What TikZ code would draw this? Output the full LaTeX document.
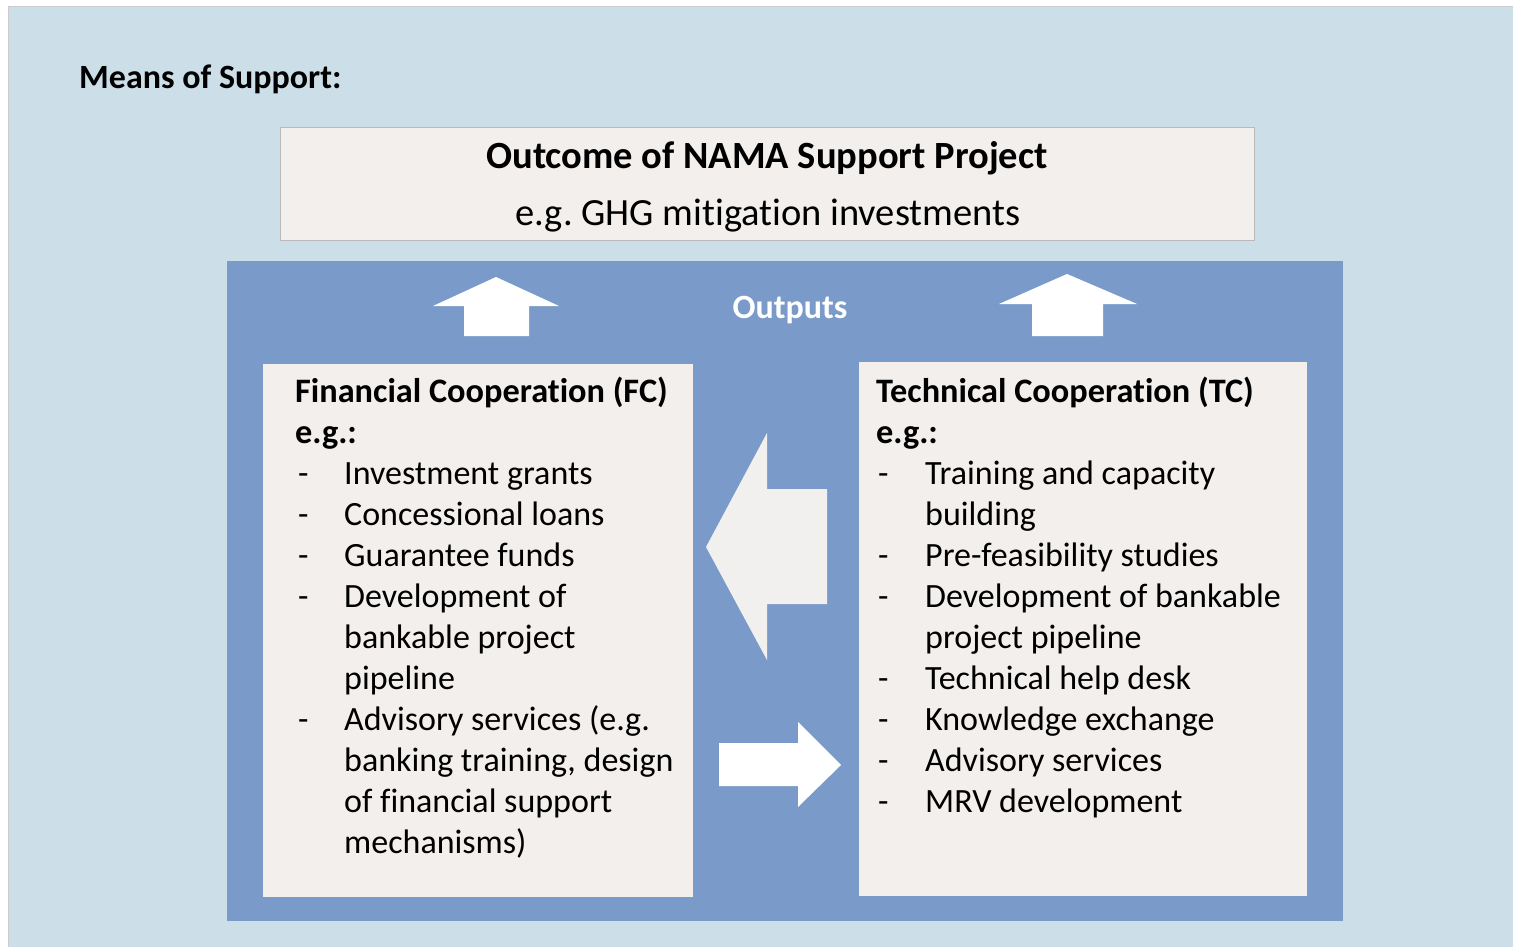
\documentclass[tikz,border=0pt]{standalone}
\usepackage{fontspec}
\setmainfont{Carlito}[Ligatures=NoCommon]
\frenchspacing
\definecolor{bgblue}{HTML}{CCDFE8}
\definecolor{midblue}{HTML}{7A9BC9}
\definecolor{boxfill}{HTML}{F2EFEC}
\definecolor{arrowgray}{HTML}{F2F0EE}
\tikzset{
  panel/.style={fill=boxfill, draw=none, anchor=north west, inner sep=0pt},
  bodytext/.style={anchor=base west, inner sep=0pt, font=\fontsize{34}{41}\selectfont},
  headtext/.style={anchor=base west, inner sep=0pt, font=\bfseries\fontsize{34.3}{41}\selectfont},
  blockarrow/.style={fill=white, draw=none}
}
\begin{document}
\begin{tikzpicture}[x=1pt,y=-1pt]
\useasboundingbox (0,0) rectangle (1513,947);
\fill[white] (0,0) rectangle (1513,947);
\draw[fill=bgblue, draw=gray!40, line width=0.8pt] (8,6) rectangle (1515,949);

\node[anchor=base west, inner sep=0pt, font=\bfseries\fontsize{34}{40}\selectfont] (means) at (79,89) {Means of Support:};

% outcome box
\node[panel, draw=gray!55, line width=0.8pt, minimum width=974pt, minimum height=113pt] (outcome) at (280,127) {};
\node[anchor=base, inner sep=0pt, font=\bfseries\fontsize{38.5}{44}\selectfont] (otitle) at (767,168.5) {Outcome of NAMA Support Project};
\node[anchor=base, inner sep=0pt, font=\fontsize{38.5}{44}\selectfont] (osub) at (768,225) {e.g. GHG mitigation investments};

% blue frame
\node[fill=midblue, anchor=north west, inner sep=0pt, minimum width=1116pt, minimum height=660pt] (frame) at (227,261) {};
\node[anchor=base, inner sep=0pt, text=white, font=\bfseries\fontsize{34}{40}\selectfont] (outputs) at (790,318) {Outputs};

% up arrows
\fill[blockarrow] (496,277) -- (559,306) -- (529,306) -- (529,336) -- (464,336) -- (464,306) -- (433,306) -- cycle;
\fill[blockarrow] (1067,274) -- (1137,304) -- (1103,304) -- (1103,336) -- (1032,336) -- (1032,304) -- (999,304) -- cycle;

% panels
\node[panel, minimum width=430pt, minimum height=533pt] (fc) at (263,364) {};
\node[panel, minimum width=448pt, minimum height=534pt] (tc) at (859,362) {};

% horizontal arrows
\fill[arrowgray] (706,547) -- (767,433) -- (767,489) -- (827,489) -- (827,604) -- (767,604) -- (767,660) -- cycle;
\fill[blockarrow] (841,765) -- (798,722) -- (798,743) -- (719,743) -- (719,786) -- (798,786) -- (798,807) -- cycle;

% FC text
\node[headtext] (fch) at (295,402) {Financial Cooperation (FC)};
\node[headtext] (fceg) at (295,443) {e.g.:};
\foreach \y/\d/\t [count=\i] in {484/-/{Investment grants},525/-/{Concessional loans},566/-/{Guarantee funds},607/-/{Development of},648//{bankable project},689//{pipeline},730/-/{Advisory services (e.g.},771//{banking training, design},812//{of financial support},853//{mechanisms)}} {
  \node[bodytext] (fcd\i) at (298,\y) {\d};
  \node[bodytext] (fct\i) at (344,\y) {\t};
}

% TC text
\node[headtext] (tch) at (876,402) {Technical Cooperation (TC)};
\node[headtext] (tceg) at (876,443) {e.g.:};
\foreach \y/\d/\t [count=\i] in {484/-/{Training and capacity},525//{building},566/-/{Pre-feasibility studies},607/-/{Development of bankable},648//{project pipeline},689/-/{Technical help desk},730/-/{Knowledge exchange},771/-/{Advisory services},812/-/{MRV development}} {
  \node[bodytext] (tcd\i) at (878,\y) {\d};
  \node[bodytext] (tct\i) at (925,\y) {\t};
}
\end{tikzpicture}
\end{document}
